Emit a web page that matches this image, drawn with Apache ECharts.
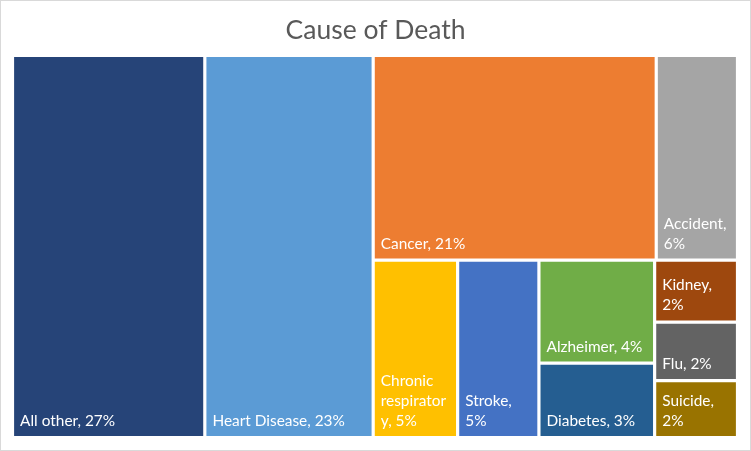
<!DOCTYPE html>
<html>
<head>
<meta charset="utf-8">
<title>Cause of Death</title>
<script src="https://cdn.jsdelivr.net/npm/echarts@6/dist/echarts.min.js"></script>
<style>
    html, body { margin: 0; padding: 0; background: #fff; }
    #main { width: 751px; height: 451px; }
    #frame {
        position: absolute; left: 0; top: 0; width: 751px; height: 451px;
        box-sizing: border-box; border: 1px solid #d9d9d9; pointer-events: none;
    }
</style>
</head>
<body>
<div id="main"></div>
<div id="frame"></div>
<script>
// values, in percent of all deaths
var causes = ['All other', 'Heart Disease', 'Cancer', 'Accident', 'Chronic respiratory',
    'Stroke', 'Alzheimer', 'Diabetes', 'Kidney', 'Flu', 'Suicide'];
var shares = [26.5, 23.2, 20.9, 6.0, 5.4, 5.2, 4.3, 3.1, 1.85, 1.75, 1.7];

// office palette, one per cause
var palette = ['#264478', '#5B9BD5', '#ED7D31', '#A5A5A5', '#FFC000', '#4472C4',
    '#70AD47', '#255E91', '#9E480E', '#636363', '#997300'];

var total = shares.reduce(function (a, b) { return a + b; }, 0);

function leaf(i) {
    return {
        name: causes[i],
        value: shares[i],
        itemStyle: { color: palette[i], borderColor: '#fff', borderWidth: 1.6 }
    };
}

// invisible groups, only there so the tiles split the same way excel does it
function group(list) {
    return { name: '', children: list };
}

var treeData = [
    leaf(0),
    group([
        leaf(1),
        group([
            group([leaf(2), leaf(3)]),
            group([
                leaf(4),
                leaf(5),
                group([
                    group([leaf(6), leaf(7)]),
                    group([leaf(8), leaf(9), leaf(10)])
                ])
            ])
        ])
    ])
];

var myChart = echarts.init(document.getElementById('main'));
var option = {
    animation: false,
    title: {
        text: 'Cause of Death',
        left: 'center',
        top: 12,
        textStyle: { fontFamily: 'Lato', fontSize: 26.5, fontWeight: 'normal', color: '#595959' }
    },
    series: [
        {
            type: 'treemap',
            left: 12.5,
            top: 55.5,
            width: 725,
            height: 382,
            sort: false,
            squareRatio: 0.1,   // small ratio -> always slice along the long side
            roam: false,
            nodeClick: false,
            breadcrumb: { show: false },
            itemStyle: { borderWidth: 0, gapWidth: 0, borderColor: '#fff' },
            upperLabel: { show: false },
            label: {
                show: true,
                position: 'insideBottomLeft',
                padding: [0, 3, 5, 6],
                color: '#fff',
                fontFamily: 'Lato',
                fontSize: 15.4,
                lineHeight: 20,
                overflow: 'break',
                formatter: function (p) {
                    return p.name + ', ' + Math.round(p.value / total * 100) + '%';
                }
            },
            data: treeData
        }
    ]
};
myChart.setOption(option);
</script>
</body>
</html>
